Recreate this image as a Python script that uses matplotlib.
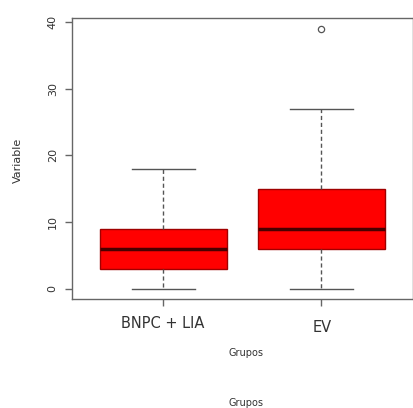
import matplotlib
matplotlib.use("Agg")
import matplotlib.pyplot as plt

grupos = ["BNPC + LIA", "EV"]
whislo = [0, 0]
q1 = [3, 6]
med = [6, 9]
q3 = [9, 15]
whishi = [18, 27]
fliers = [[], [39]]

stats = [dict(label=g, whislo=a, q1=b, med=c, q3=d, whishi=e, fliers=f)
         for g, a, b, c, d, e, f in zip(grupos, whislo, q1, med, q3, whishi, fliers)]

fig = plt.figure(figsize=(4.14, 4.08), dpi=100)
fig.patch.set_facecolor("white")
ax = fig.add_axes([0.173, 0.267, 0.825, 0.688])

ax.bxp(stats, positions=[1, 2], widths=0.8, patch_artist=True,
       boxprops=dict(facecolor="#FF0000", edgecolor="#A00000", lw=1.0),
       medianprops=dict(color="#4A0000", lw=2.5),
       whiskerprops=dict(color="#555555", lw=1.0, ls=(0, (3, 2))),
       capprops=dict(color="#555555", lw=1.0),
       capwidths=0.4,
       flierprops=dict(marker="o", mfc="none", mec="#555555", ms=4.5, mew=0.9))

ax.set_xlim(0.42, 2.58)
ax.set_ylim(-1.56, 40.56)
ax.set_yticks([0, 10, 20, 30, 40])
ax.set_xticks([1, 2])
ax.set_xticklabels([])
for s in ax.spines.values():
    s.set_color("#666666")
    s.set_linewidth(1.0)
ax.tick_params(axis="both", colors="#666666", length=5, width=1.0)
ax.tick_params(axis="y", labelsize=8, labelcolor="#333333", pad=5)
for lab in ax.get_yticklabels():
    lab.set_rotation(90)
    lab.set_va("center")

# etiquetas do eixo x (tamanhos diferentes como no original)
fig.text(163/414, 1-323/408, grupos[0], ha="center", va="center", fontsize=10.5, color="#333333")
fig.text(322/414, 1-327/408, grupos[1], ha="center", va="center", fontsize=10.5, color="#333333")
fig.text(246/414, 1-353/408, "Grupos", ha="center", va="center", fontsize=7, color="#333333")
fig.text(246/414, 1-403/408, "Grupos", ha="center", va="center", fontsize=7, color="#333333")
fig.text(18/414, 1-160/408, "Variable", ha="center", va="center", rotation=90, fontsize=8, color="#333333")

fig.savefig("out.png", dpi=100, facecolor="white")
